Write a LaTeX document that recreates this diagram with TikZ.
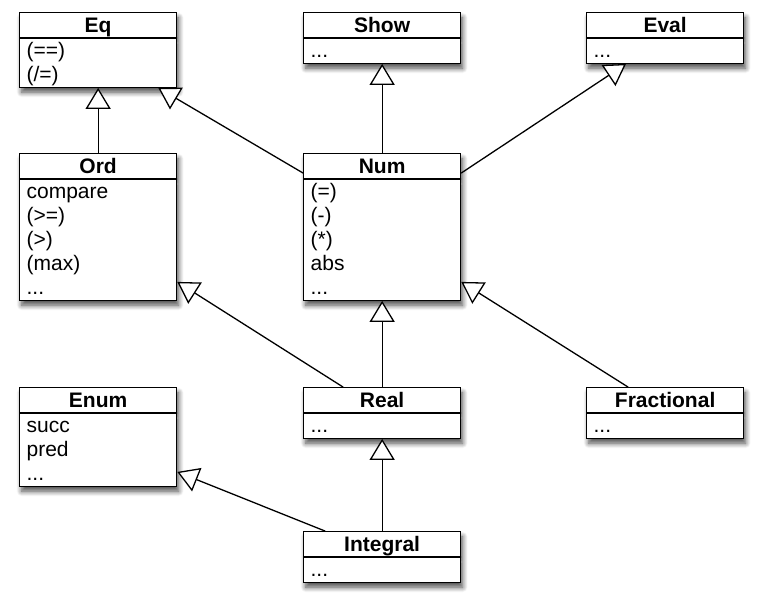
\documentclass[tikz,border=0pt]{standalone}
\usepackage{fontspec}
\setmainfont{Liberation Sans}
\usetikzlibrary{arrows.meta}
\usetikzlibrary{shapes.multipart}
\usetikzlibrary{shadows.blur}

\newcommand{\rowstrut}{\rule[-5pt]{0pt}{24pt}}
\newcommand{\classhead}[1]{\makebox[143pt]{\rowstrut\textbf{#1}}}

\begin{document}
\begin{tikzpicture}[x=1pt,y=-1pt,line cap=round,
    umlclass/.style={rectangle split,rectangle split parts=2,draw,line width=1.3pt,fill=white,
      text width=143pt,inner xsep=7pt,inner ysep=0pt,align=left,anchor=north west,
      font=\fontsize{21}{24}\selectfont,
      blur shadow={shadow xshift=2pt,shadow yshift=-5pt,shadow blur radius=5pt,shadow blur steps=8,shadow opacity=70}},
    isa/.style={line width=1.3pt,-{Triangle[open,fill=white,length=21pt,width=25pt]}}]
  \useasboundingbox (0,0) rectangle (763,606);
  % classes
  \node[umlclass] (eq) at (19,12) {\classhead{Eq}\nodepart{two}\rowstrut(==)\\\rowstrut(/=)};
  \node[umlclass] (show) at (303,12) {\classhead{Show}\nodepart{two}\rowstrut...};
  \node[umlclass] (eval) at (586,12) {\classhead{Eval}\nodepart{two}\rowstrut...};
  \node[umlclass] (ord) at (19,153) {\classhead{Ord}\nodepart{two}\rowstrut compare\\\rowstrut(>=)\\\rowstrut(>)\\\rowstrut(max)\\\rowstrut...};
  \node[umlclass] (num) at (303,153) {\classhead{Num}\nodepart{two}\rowstrut(=)\\\rowstrut(-)\\\rowstrut(*)\\\rowstrut abs\\\rowstrut...};
  \node[umlclass] (enum) at (19,387) {\classhead{Enum}\nodepart{two}\rowstrut succ\\\rowstrut pred\\\rowstrut...};
  \node[umlclass] (real) at (303,387) {\classhead{Real}\nodepart{two}\rowstrut...};
  \node[umlclass] (fractional) at (586,387) {\classhead{Fractional}\nodepart{two}\rowstrut...};
  \node[umlclass] (integral) at (303,531) {\classhead{Integral}\nodepart{two}\rowstrut...};
  % inheritance
  \draw[isa] (ord.north) -- (eq.south);
  \draw[isa] ([yshift=-20pt]num.north west) -- ([xshift=-19pt]eq.south east);
  \draw[isa] (num.north) -- (show.south);
  \draw[isa] ([yshift=-20pt]num.north east) -- ([xshift=40pt]eval.south west);
  \draw[isa] ([xshift=40pt]real.north west) -- ([yshift=19pt]ord.south east);
  \draw[isa] (real.north) -- (num.south);
  \draw[isa] ([xshift=42pt]fractional.north west) -- ([yshift=19pt]num.south east);
  \draw[isa] (integral.north) -- (real.south);
  \draw[isa] ([xshift=22pt]integral.north west) -- ([yshift=15pt]enum.south east);
\end{tikzpicture}
\end{document}
